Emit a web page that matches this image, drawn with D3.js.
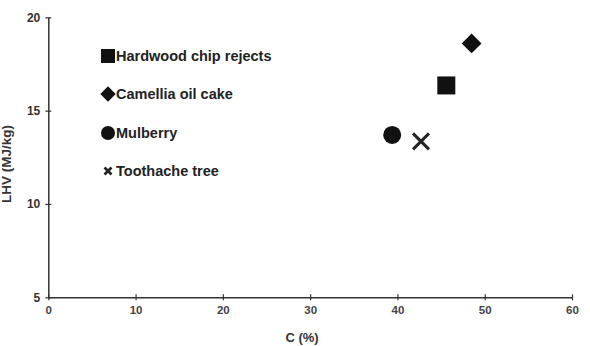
<!DOCTYPE html>
<html>
<head>
<meta charset="utf-8">
<script src="https://cdn.jsdelivr.net/npm/d3@7"></script>
<style>
  body { margin: 0; background: #fff; }
  text { font-family: "Liberation Sans", Arial, sans-serif; }
</style>
</head>
<body>
<div id="chart"></div>
<script>
var w = 590, h = 346;

// Samples and their values
var samples = ["Hardwood chip rejects", "Camellia oil cake", "Mulberry", "Toothache tree"];
var symbols = ["square", "diamond", "circle", "cross"];
var carbon = [45.6, 48.5, 39.4, 42.7];
var lhv = [16.35, 18.6, 13.7, 13.35];

var xTicks = [0, 10, 20, 30, 40, 50, 60];
var yTicks = [5, 10, 15, 20];

var margin = { left: 48.3, right: 18, top: 17.3, bottom: 48.7 };

var x = d3.scaleLinear()
  .domain([0, 60])
  .range([margin.left, w - margin.right]);

var y = d3.scaleLinear()
  .domain([5, 20])
  .range([h - margin.bottom, margin.top]);

var svg = d3.select("#chart")
  .append("svg")
  .attr("width", w)
  .attr("height", h);

// Axes
var xAxis = svg.append("g")
  .attr("transform", "translate(0," + y(5) + ")")
  .call(d3.axisBottom(x).tickValues(xTicks).tickSize(3).tickSizeOuter(0));
xAxis.selectAll(".tick line").attr("y1", -3).attr("y2", 3);
xAxis.selectAll("text")
  .attr("dy", "0.35em")
  .attr("y", 13)
  .style("font-size", "11.5px")
  .style("font-weight", "bold")
  .style("fill", "#444");

var yAxis = svg.append("g")
  .attr("transform", "translate(" + x(0) + ",0)")
  .call(d3.axisLeft(y).tickValues(yTicks).tickSize(3).tickSizeOuter(0));
yAxis.selectAll(".tick line").attr("x1", -3).attr("x2", 3);
yAxis.selectAll("text")
  .attr("x", -8)
  .style("font-size", "12px")
  .style("font-weight", "bold")
  .style("fill", "#333");

svg.selectAll(".domain").attr("stroke", "#333").attr("stroke-width", 1.5);
svg.selectAll(".tick line").attr("stroke", "#333").attr("stroke-width", 1.2);

// Axis titles
svg.append("text")
  .attr("x", 302)
  .attr("y", 342)
  .attr("text-anchor", "middle")
  .style("font-size", "13px")
  .style("font-weight", "bold")
  .style("fill", "#333")
  .text("C (%)");

svg.append("text")
  .attr("transform", "translate(11," + 164 + ") rotate(-90)")
  .attr("text-anchor", "middle")
  .style("font-size", "13.5px")
  .style("font-weight", "bold")
  .style("fill", "#333")
  .text("LHV (MJ/kg)");

// Marker drawing
function drawMarker(g, type, size, sw) {
  if (type == "square") {
    g.append("rect")
      .attr("x", -size / 2).attr("y", -size / 2)
      .attr("width", size).attr("height", size)
      .attr("fill", "#111");
  } else if (type == "diamond") {
    var r = size * 0.55;
    g.append("path")
      .attr("d", "M0," + (-r) + "L" + r + ",0L0," + r + "L" + (-r) + ",0Z")
      .attr("fill", "#111");
  } else if (type == "circle") {
    g.append("circle").attr("r", size / 2).attr("fill", "#111");
  } else {
    var a = size / 2;
    g.append("path")
      .attr("d", "M" + (-a) + "," + (-a) + "L" + a + "," + a + "M" + a + "," + (-a) + "L" + (-a) + "," + a)
      .attr("stroke", "#222")
      .attr("stroke-width", sw)
      .attr("fill", "none");
  }
}

// Points
for (var i = 0; i < samples.length; i++) {
  var g = svg.append("g")
    .attr("transform", "translate(" + x(carbon[i]) + "," + y(lhv[i]) + ")");
  drawMarker(g, symbols[i], symbols[i] == "cross" ? 16 : 18, 3);
}

// Legend
var legendY = [56, 94, 133, 171];
for (var j = 0; j < samples.length; j++) {
  var lg = svg.append("g")
    .attr("transform", "translate(108," + legendY[j] + ")");
  drawMarker(lg, symbols[j], symbols[j] == "cross" ? 7 : 14, 2.6);
  lg.append("text")
    .attr("x", 8)
    .attr("dy", "0.36em")
    .style("font-size", "14.5px")
    .style("font-weight", "bold")
    .style("fill", "#222")
    .text(samples[j]);
}
</script>
</body>
</html>
